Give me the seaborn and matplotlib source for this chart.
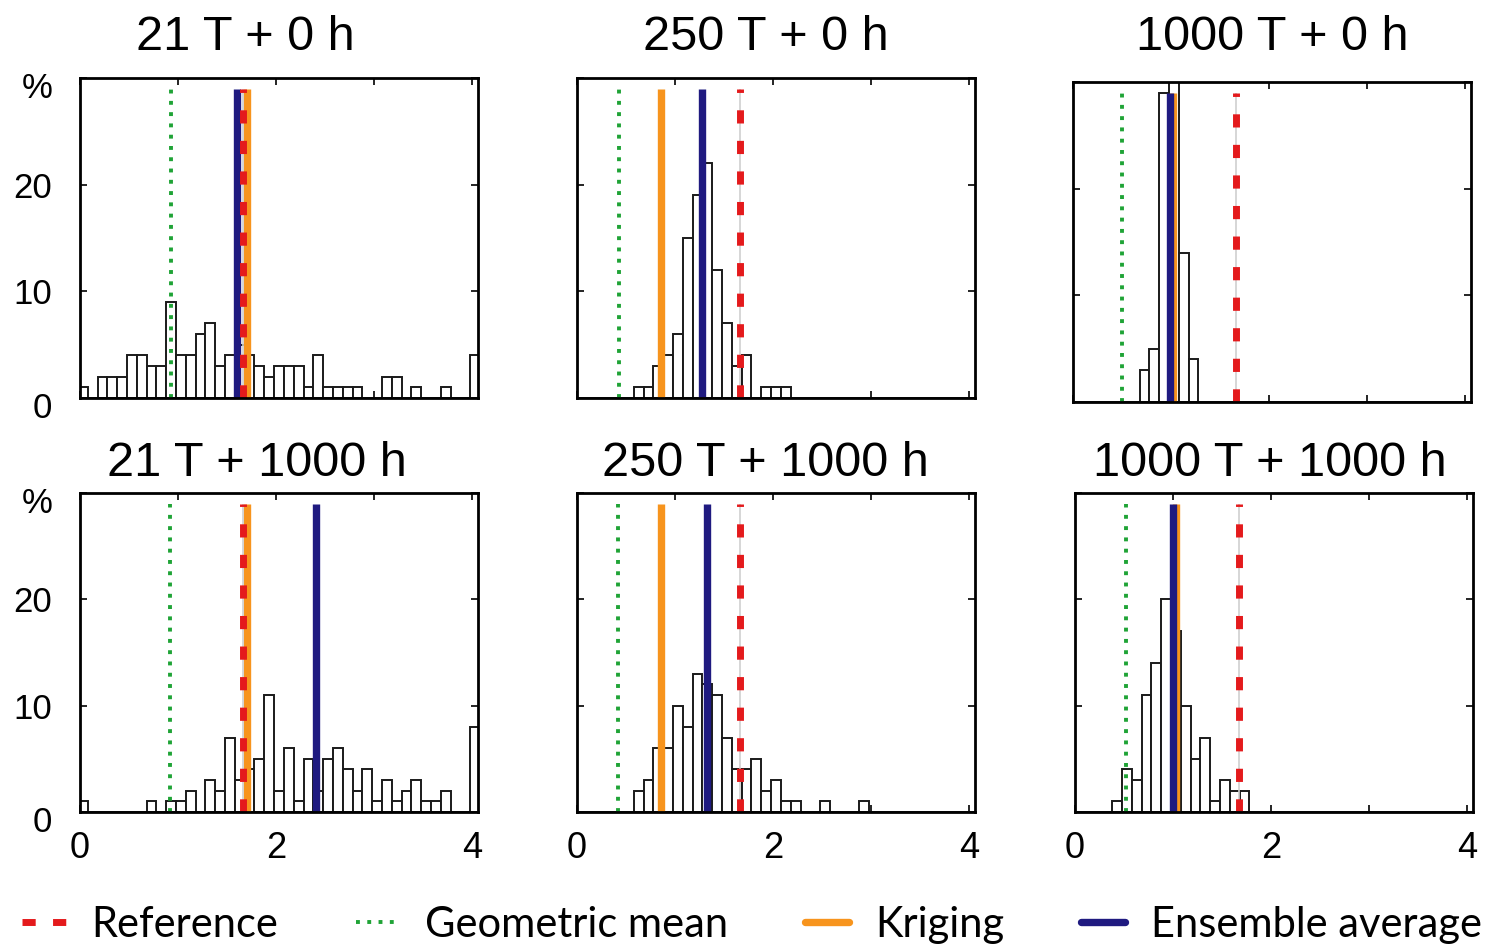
import numpy as np
import matplotlib
matplotlib.use("Agg")
import matplotlib.pyplot as plt
import matplotlib.transforms as mtransforms
from matplotlib.lines import Line2D
import seaborn as sns

# ---------------- data ----------------
titles = ["21 T + 0 h", "250 T + 0 h", "1000 T + 0 h",
          "21 T + 1000 h", "250 T + 1000 h", "1000 T + 1000 h"]

# histogram bins: 41 bins of width 0.1 (last bin collects values beyond 4)
bin_edges = [round(-0.02 + 0.1 * k, 2) for k in range(42)]
bin_centers = [round(0.03 + 0.1 * k, 2) for k in range(41)]

pct_21_0 = [1, 0, 2, 2, 2, 4, 4, 3, 3, 9, 4, 4, 6, 7, 3, 4, 5, 4, 3, 2, 3,
            3, 3, 1, 4, 1, 1, 1, 1, 0, 0, 2, 2, 0, 1, 0, 0, 1, 0, 0, 4]
pct_250_0 = [0, 0, 0, 0, 0, 0, 1, 1, 3, 4, 6, 15, 19, 22, 12, 7, 3, 4, 0, 1, 1,
             1, 0, 0, 0, 0, 0, 0, 0, 0, 0, 0, 0, 0, 0, 0, 0, 0, 0, 0, 0]
pct_1000_0 = [0, 0, 0, 0, 0, 0, 0, 3, 5, 29, 32, 14, 4, 0, 0, 0, 0, 0, 0, 0, 0,
              0, 0, 0, 0, 0, 0, 0, 0, 0, 0, 0, 0, 0, 0, 0, 0, 0, 0, 0, 0]
pct_21_1000 = [1, 0, 0, 0, 0, 0, 0, 1, 0, 1, 1, 2, 0, 3, 2, 7, 3, 4, 5, 11, 2,
               6, 1, 5, 2, 5, 6, 4, 2, 4, 1, 3, 1, 2, 3, 1, 1, 2, 0, 0, 8]
pct_250_1000 = [0, 0, 0, 0, 0, 0, 2, 3, 6, 6, 10, 8, 13, 12, 11, 7, 4, 4, 5, 2, 3,
                1, 1, 0, 0, 1, 0, 0, 0, 1, 0, 0, 0, 0, 0, 0, 0, 0, 0, 0, 0]
pct_1000_1000 = [0, 0, 0, 0, 1, 4, 3, 11, 14, 20, 17, 10, 5, 7, 1, 3, 2, 2, 0, 0, 0,
                 0, 0, 0, 0, 0, 0, 0, 0, 0, 0, 0, 0, 0, 0, 0, 0, 0, 0, 0, 0]
histograms = [pct_21_0, pct_250_0, pct_1000_0, pct_21_1000, pct_250_1000, pct_1000_1000]

reference = [1.66, 1.66, 1.66, 1.66, 1.66, 1.67]
geometric_mean = [0.93, 0.43, 0.50, 0.92, 0.42, 0.52]
kriging = [1.70, 0.86, 1.02, 1.70, 0.86, 1.03]
ensemble_avg = [1.60, 1.28, 0.99, 2.41, 1.33, 1.00]

legend_labels = ["Reference", "Geometric mean", "Kriging", "Ensemble average"]
x_ticks = [0, 1, 2, 3, 4]
x_ticklabels = ["0", "", "2", "", "4"]
y_ticks = [0, 10, 20, 30]
y_ticklabels = ["0", "10", "20", "%"]

# ---------------- style ----------------
RED = "#e41a1c"
GREEN = "#1fa336"
ORANGE = "#f7941d"
BLUE = "#1f1a80"
LINE_TOP = 29

sns.set_theme(style="ticks")
plt.rcParams["font.family"] = ["Liberation Sans", "DejaVu Sans"]

FW, FH = 1486, 948
fig = plt.figure(figsize=(FW / 100, FH / 100), dpi=100)

# axes boxes in pixels: (left, top, width, height)
boxes = [(80, 78, 398, 320), (577, 78, 398, 320), (1073, 82, 398, 320),
         (80, 493, 398, 319), (577, 493, 398, 319), (1075, 493, 398, 319)]
title_pos = [(245, 50), (766, 50), (1272, 50), (257, 476), (765, 476), (1270, 476)]

red_dash = (0, (1.9, 2.5))
green_dot = (0, (1.0, 1.9))

for i, (l, t, w, h) in enumerate(boxes):
    ax = fig.add_axes([l / FW, 1 - (t + h) / FH, w / FW, h / FH])
    sns.histplot(x=bin_centers, weights=histograms[i], bins=bin_edges, ax=ax,
                 color="white", edgecolor="#1a1a1a", linewidth=1.4, alpha=1,
                 zorder=2)
    ax.vlines(geometric_mean[i], 0, LINE_TOP, colors=GREEN, linestyles=[green_dot],
              linewidth=2.8, zorder=3)
    ax.vlines(kriging[i], 0, LINE_TOP, colors=ORANGE, linewidth=5.3, zorder=4)
    ax.vlines(ensemble_avg[i], 0, LINE_TOP, colors=BLUE, linewidth=5.3, zorder=5)
    ax.vlines(reference[i], 0, LINE_TOP, colors="#cfcfcf", linewidth=1.2, zorder=6)
    ax.vlines(reference[i], 0, LINE_TOP, colors=RED, linestyles=[red_dash],
              linewidth=5.0, zorder=7)

    ax.set_xlim(0, 4.06)
    ax.set_ylim(0, 30)
    ax.set_xlabel("")
    ax.set_ylabel("")
    ax.set_xticks(x_ticks)
    ax.set_yticks(y_ticks)
    ax.tick_params(direction="in", length=5, width=1.2, top=True, right=True,
                   colors="black")
    ax.tick_params(axis="y", pad=20, labelsize=25)
    ax.tick_params(axis="x", pad=14, labelsize=26)
    if i >= 3:
        ax.set_xticklabels(x_ticklabels)
    else:
        ax.set_xticklabels([])
    if i % 3 == 0:
        ax.set_yticklabels(y_ticklabels)
        off = mtransforms.ScaledTranslation(0, -7 / 100, fig.dpi_scale_trans)
        ticks = ax.yaxis.get_major_ticks()
        for k in (0, 3):
            ticks[k].label1.set_transform(ticks[k].label1.get_transform() + off)
    else:
        ax.set_yticklabels([])
    for sp in ax.spines.values():
        sp.set_visible(True)
        sp.set_linewidth(2.0)
        sp.set_color("black")
        sp.set_zorder(10)

    cx, by = title_pos[i]
    fig.text(cx / FW, 1 - by / FH, titles[i], ha="center", va="baseline",
             fontsize=35, color="black")

handles = [
    Line2D([], [], color=RED, linewidth=5.0, linestyle=red_dash),
    Line2D([], [], color=GREEN, linewidth=2.8, linestyle=green_dot),
    Line2D([], [], color=ORANGE, linewidth=5.3),
    Line2D([], [], color=BLUE, linewidth=5.3),
]
leg = fig.legend(handles, legend_labels, loc="center",
                 bbox_to_anchor=(752 / FW, 1 - 925 / FH),
                 ncol=4, frameon=False, prop={"family": "Lato", "size": 30},
                 handlelength=1.05, handletextpad=0.62, columnspacing=1.85,
                 borderpad=0, borderaxespad=0, labelcolor="black")

fig.savefig("out.png", dpi=100)
